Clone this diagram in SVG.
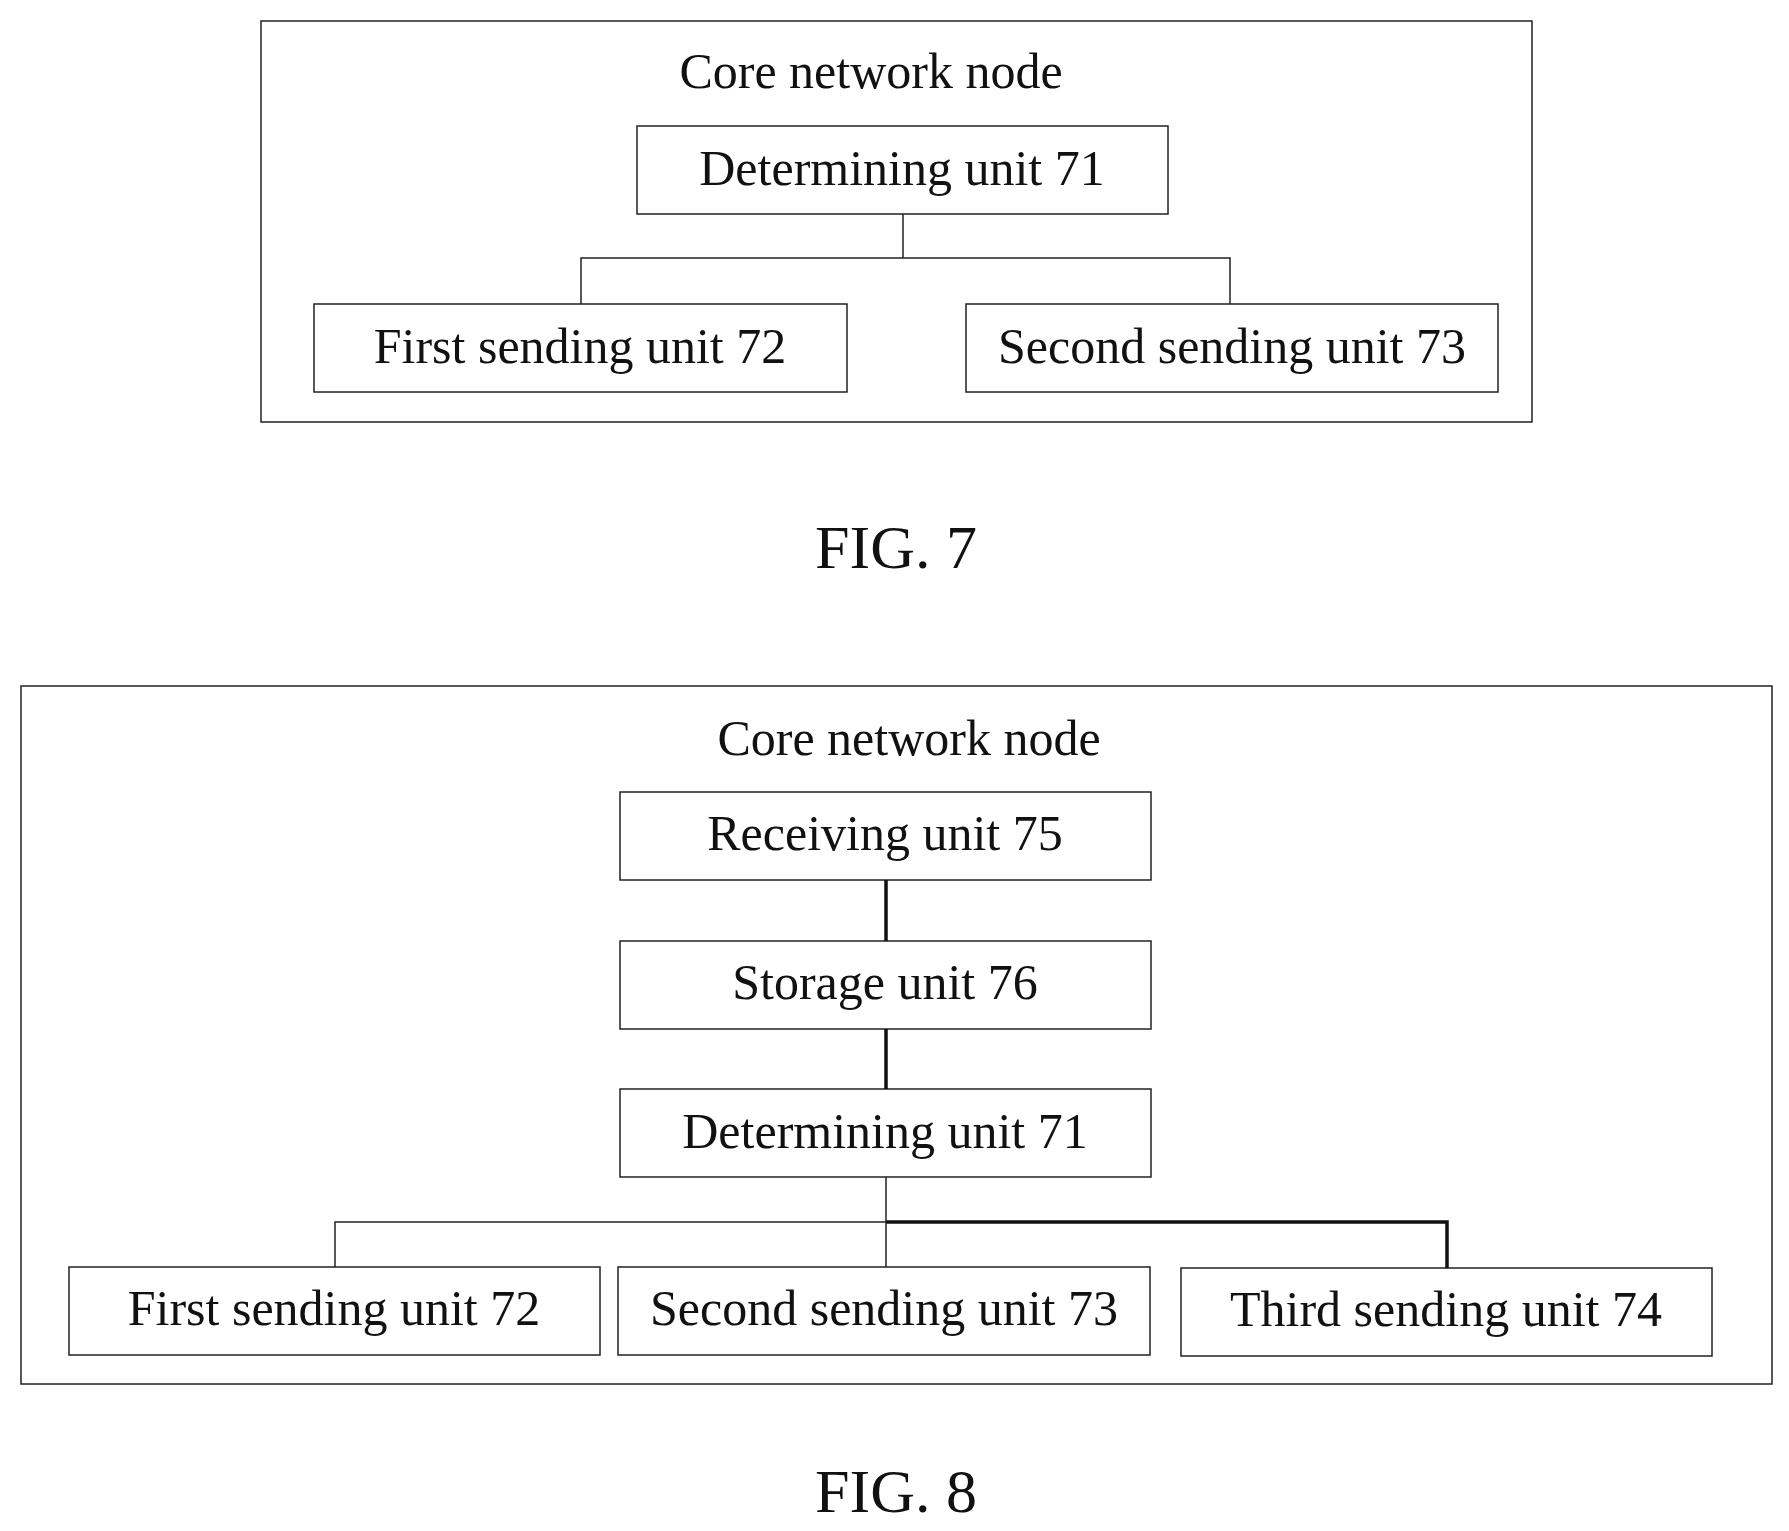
<svg xmlns="http://www.w3.org/2000/svg" width="1789" height="1531" viewBox="0 0 1789 1531">
<style>
rect{fill:#fff;stroke:#222;stroke-width:1.5}
text{font-family:"Liberation Serif",serif;font-size:50px;text-anchor:middle;fill:#111}
.fig{font-size:62px}
.thin{stroke:#222;stroke-width:1.5;fill:none}
.thick{stroke:#111;stroke-width:3.5;fill:none}
</style>
<rect width="1789" height="1531" style="fill:#fff;stroke:none"/>
<g id="fig7">
<rect x="261" y="21" width="1271" height="401"/>
<text x="871" y="88">Core network node</text>
</g>
<g id="n71a"><rect x="637" y="126" width="531" height="88"/><text x="902" y="185">Determining unit 71</text></g>
<g id="n72a"><rect x="314" y="304" width="533" height="88"/><text x="580" y="363">First sending unit 72</text></g>
<g id="n73a"><rect x="966" y="304" width="532" height="88"/><text x="1232" y="363">Second sending unit 73</text></g>
<text class="fig" x="896" y="568">FIG. 7</text>
<g id="fig8">
<rect x="21" y="686" width="1751" height="698"/>
<text x="909" y="755">Core network node</text>
</g>
<g id="n75"><rect x="620" y="792" width="531" height="88"/><text x="885" y="850">Receiving unit 75</text></g>
<g id="n76"><rect x="620" y="941" width="531" height="88"/><text x="885" y="999">Storage unit 76</text></g>
<g id="n71b"><rect x="620" y="1089" width="531" height="88"/><text x="885" y="1148">Determining unit 71</text></g>
<g id="n72b"><rect x="69" y="1267" width="531" height="88"/><text x="334" y="1325">First sending unit 72</text></g>
<g id="n73b"><rect x="618" y="1267" width="532" height="88"/><text x="884" y="1325">Second sending unit 73</text></g>
<g id="n74"><rect x="1181" y="1268" width="531" height="88"/><text x="1446" y="1326">Third sending unit 74</text></g>
<text class="fig" x="896" y="1512">FIG. 8</text>
<g id="connectors">
<path class="thin" d="M903 214V258M581 304V258H1230V304"/>
<path class="thick" d="M886 880V941M886 1029V1089M886 1222H1447V1268"/>
<path class="thin" d="M886 1177V1267M886 1222H335V1267"/>
</g>
</svg>
